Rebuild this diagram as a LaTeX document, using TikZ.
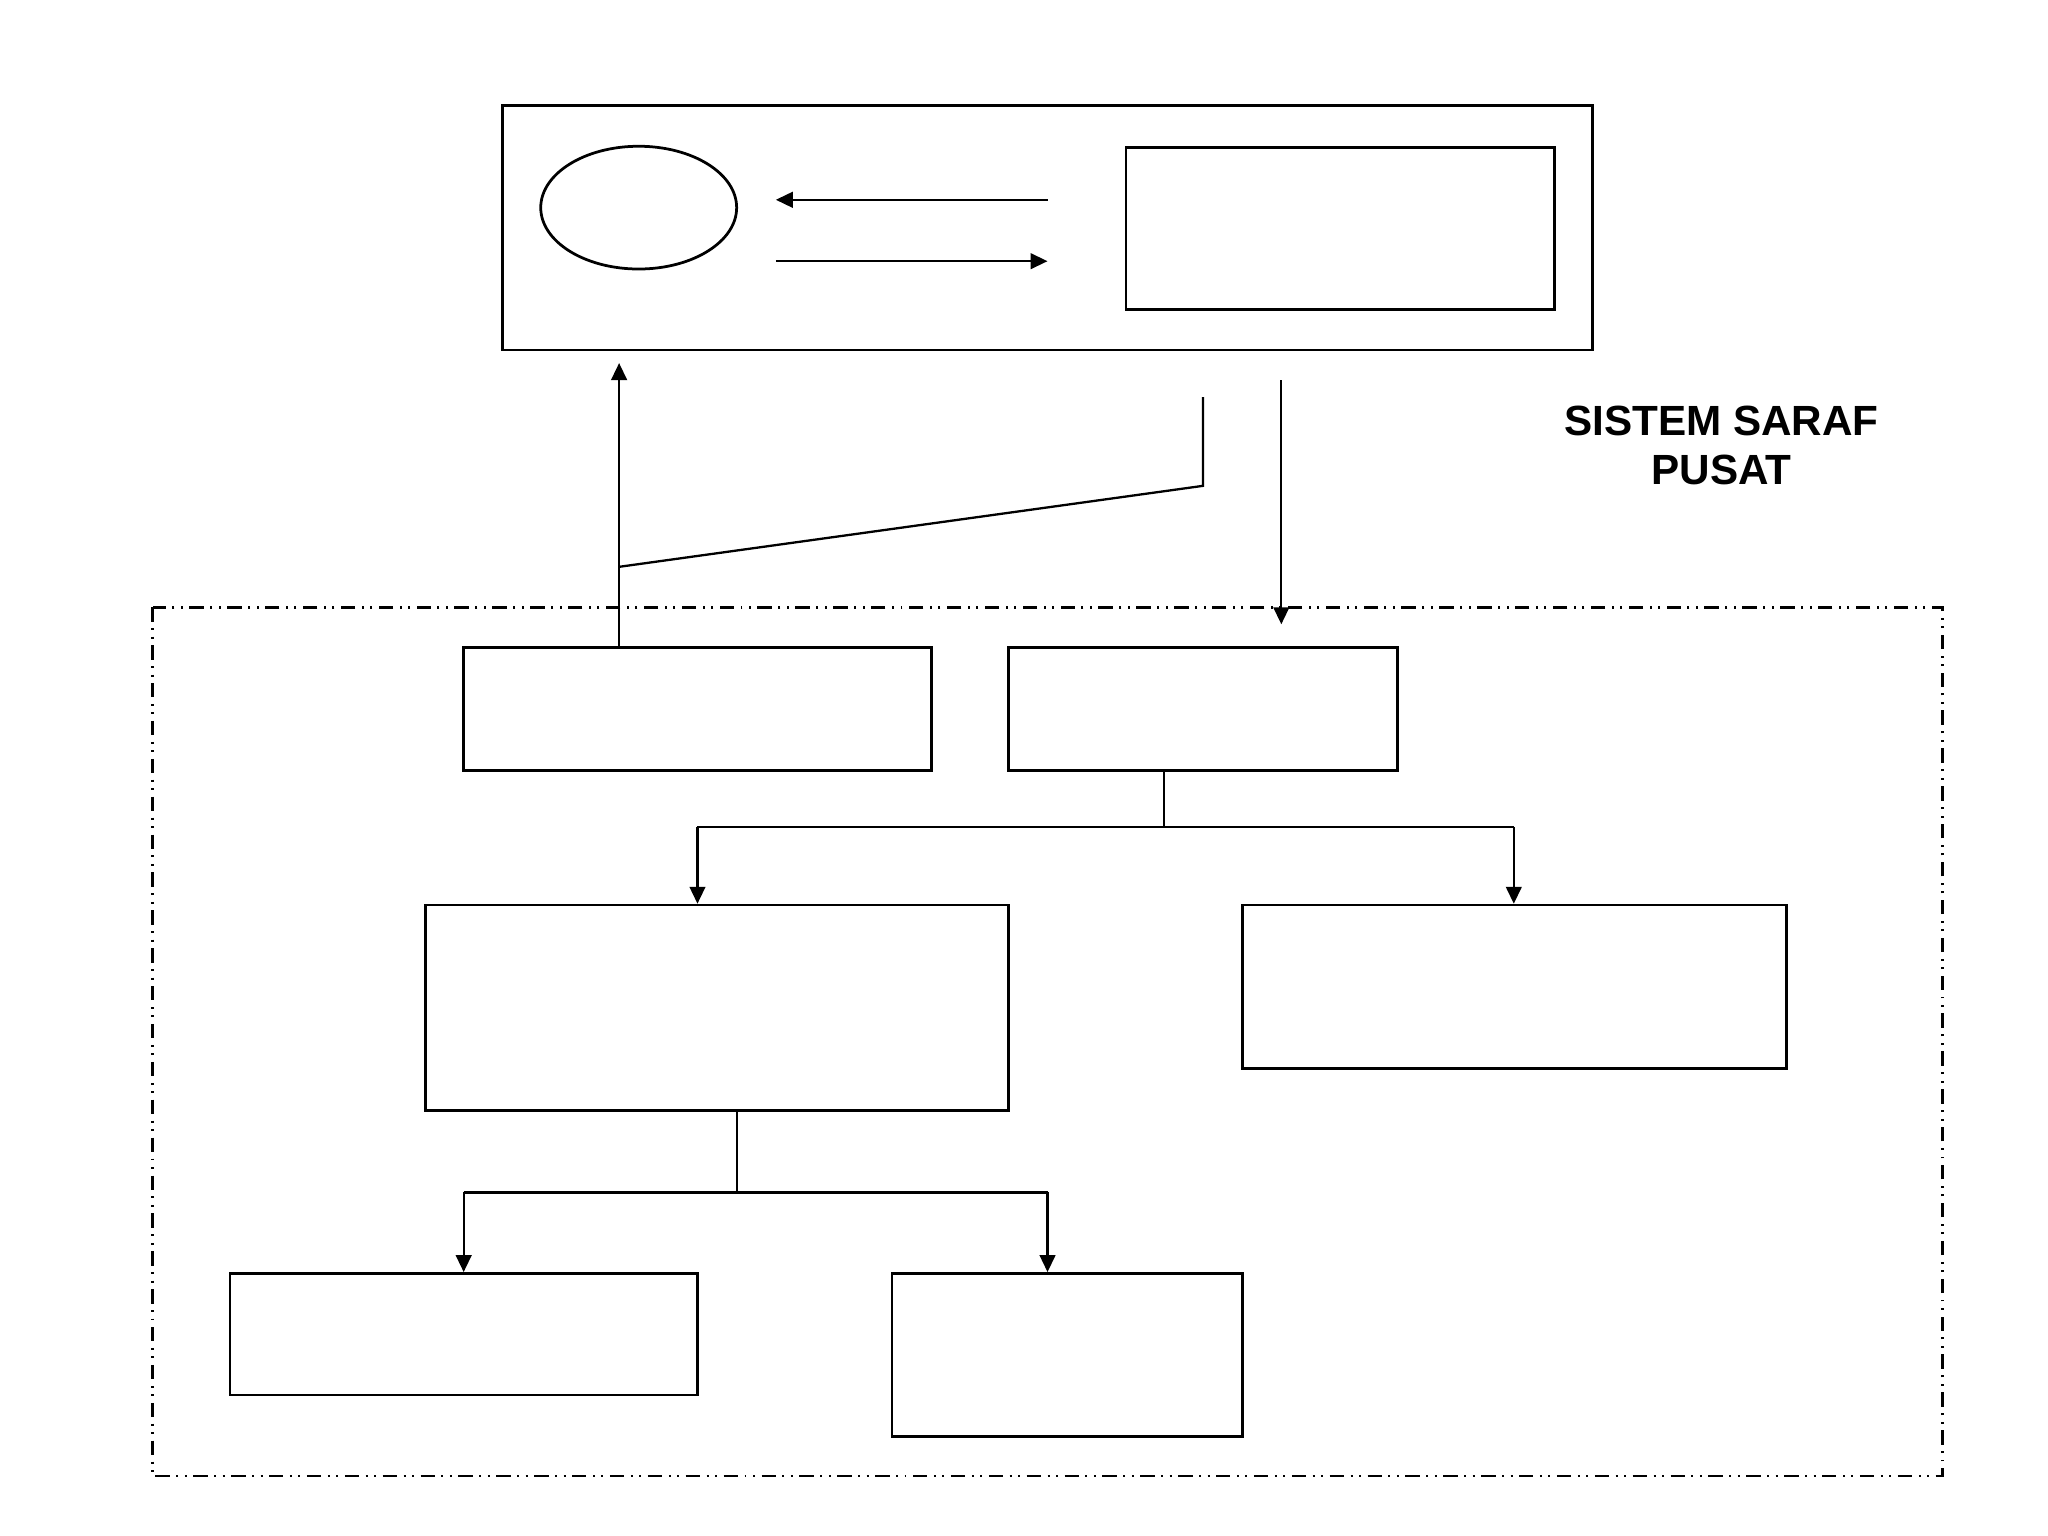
\documentclass[tikz,border=0pt]{standalone}
\usepackage{fontspec}
\setmainfont{Liberation Sans}
\usetikzlibrary{arrows.meta,shapes.geometric}
\begin{document}
\begin{tikzpicture}[shape=rectangle,line width=0.5pt,
    box/.style={draw,line width=0.6pt,inner sep=0pt},
    tip/.style={-{Triangle[length=0.13cm,width=0.12cm]}},
    dashdotdot/.style={line width=0.6pt,dash pattern=on 0.11cm off 0.05cm on 0.015cm off 0.05cm on 0.015cm off 0.05cm}]
    \useasboundingbox (0,0) rectangle (15.68,11.76);

    \node[box,minimum width=8.34cm,minimum height=1.87cm] (otak) at (8.02,10.015) {};
    \node[box,ellipse,minimum width=1.50cm,minimum height=0.94cm] (E) at (4.89,10.17) {};
    \node[box,minimum width=3.28cm,minimum height=1.24cm] (R) at (10.26,10.01) {};

    \node[box,minimum width=3.58cm,minimum height=0.94cm] (A) at (5.34,6.33) {};
    \node[box,minimum width=2.98cm,minimum height=0.94cm] (B) at (9.21,6.33) {};
    \node[box,minimum width=4.46cm,minimum height=1.57cm] (C) at (5.49,4.045) {};
    \node[box,minimum width=4.17cm,minimum height=1.25cm] (D) at (11.595,4.205) {};
    \node[box,minimum width=3.58cm,minimum height=0.93cm] (F) at (3.55,1.545) {};
    \node[box,minimum width=2.68cm,minimum height=1.25cm] (G) at (8.17,1.385) {};

    \draw[dashdotdot] (1.17,7.11) rectangle (14.87,0.46);

    \node[align=center,font=\fontsize{9.2}{10.8}\selectfont\bfseries] (judul) at (13.18,8.35) {SISTEM SARAF\\PUSAT};

    % arrows inside the top box
    \coordinate (p1) at (8.02,10.23);
    \coordinate (p2) at (5.94,10.23);
    \coordinate (p3) at (5.94,9.76);
    \coordinate (p4) at (8.02,9.76);
    \draw (p1) edge[tip] (p2);
    \draw (p3) edge[tip] (p4);

    % up and down between the top box and the lower part
    \coordinate (a1) at (4.74,6.80);
    \coordinate (a2) at (4.74,8.98);
    \coordinate (a3) at (4.74,7.42);
    \coordinate (a4) at (9.21,8.04);
    \coordinate (a5) at (9.21,8.72);
    \coordinate (b1) at (9.81,8.85);
    \coordinate (b2) at (9.81,6.98);
    \draw (a1) edge[tip] (a2);
    \draw (a3) -- (a4) -- (a5);
    \draw (b1) edge[tip] (b2);

    % from B to C and D
    \coordinate (c1) at (8.91,5.86);
    \coordinate (c2) at (8.91,5.43);
    \coordinate (c3) at (5.34,5.43);
    \coordinate (c4) at (11.59,5.43);
    \draw (c1) -- (c2);
    \draw (c3) -- (c4);
    \draw (c3) edge[tip] (C.north -| c3);
    \draw (c4) edge[tip] (D.north -| c4);

    % from C to F and G
    \coordinate (d1) at (5.64,3.26);
    \coordinate (d2) at (5.64,2.63);
    \coordinate (d3) at (3.55,2.63);
    \coordinate (d4) at (8.02,2.63);
    \draw (d1) -- (d2);
    \draw (d3) -- (d4);
    \draw (d3) edge[tip] (F.north -| d3);
    \draw (d4) edge[tip] (G.north -| d4);
\end{tikzpicture}
\end{document}
